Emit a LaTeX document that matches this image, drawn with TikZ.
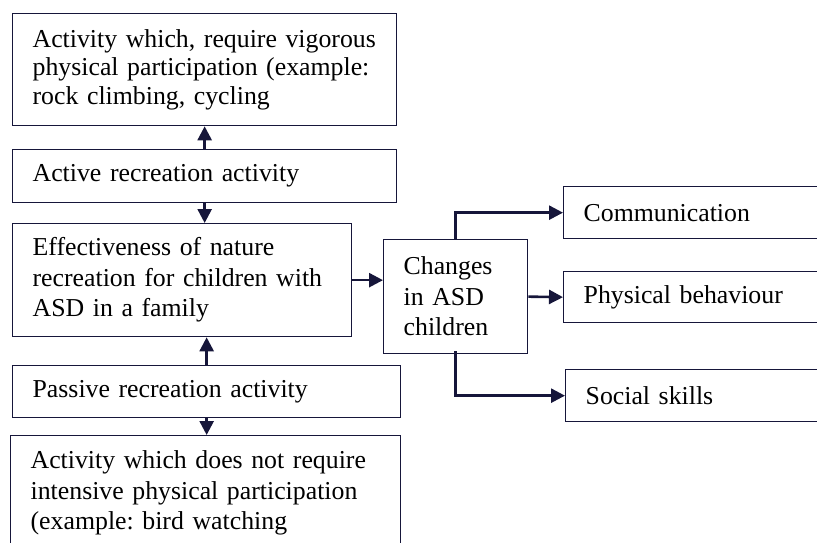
\documentclass[tikz,border=0pt]{standalone}
\usepackage{fontspec}
\setmainfont{Liberation Serif}
\usetikzlibrary{arrows.meta}
\definecolor{ink}{HTML}{16163A}
\newcommand{\tline}[1]{\mbox{#1}}
\frenchspacing
\begin{document}
\begin{tikzpicture}[x=1pt,y=-1pt,
  box/.style={draw=ink, line width=1.3pt, anchor=north west, inner xsep=20pt, inner ysep=0pt,
    align=left, font=\fontsize{25.8}{30.5}\selectfont},
  arr/.style={draw=ink, line width=2.6pt, -{Triangle[length=14pt,width=14pt]}}]
\useasboundingbox (0,0) rectangle (817,542);
\clip (0,0) rectangle (817,542);
\node[box, minimum width=384pt, minimum height=112pt, text width=344pt,
  font=\fontsize{25.8}{28.5}\selectfont] (top) at (12,13)
  {\tline{Activity which, require vigorous}\\\tline{physical participation (example:}\\\tline{rock climbing, cycling}\par\vspace{6pt}};
\node[box, minimum width=384pt, minimum height=53pt, text width=344pt] (act) at (12,149)
  {\tline{Active recreation activity}};
\node[box, minimum width=339pt, minimum height=113pt, text width=299pt] (eff) at (12,223)
  {\tline{Effectiveness of nature}\\\tline{recreation for children with}\\\tline{ASD in a family}};
\node[box, minimum width=388pt, minimum height=52pt, text width=348pt] (pas) at (12,365)
  {\tline{Passive recreation activity}};
\node[box, minimum width=390pt, minimum height=115pt, text width=350pt] (bot) at (10,435)
  {\tline{Activity which does not require}\\\tline{intensive physical participation}\\\tline{(example: bird watching}};
\node[box, minimum width=144pt, minimum height=114pt, text width=104pt] (chg) at (383,239)
  {\tline{Changes}\\\tline{in ASD}\\\tline{children}};
\node[box, minimum width=300pt, minimum height=52pt, text width=260pt] (com) at (563,186)
  {\tline{Communication}};
\node[box, minimum width=300pt, minimum height=51pt, text width=260pt] (phy) at (563,271)
  {\tline{Physical behaviour}};
\node[box, minimum width=300pt, minimum height=52pt, text width=260pt] (soc) at (565,369)
  {\tline{Social skills}};
% vertical arrows
\draw[arr] (act.north) -- (act.north |- top.south);
\draw[arr] (act.south) -- (act.south |- eff.north);
\draw[arr] (pas.north) -- (pas.north |- eff.south);
\draw[arr] (pas.south) -- (pas.south |- bot.north);
% to changes
\draw[arr] (eff.east) -- (eff.east -| chg.west);
\draw[arr] (chg.north) |- (com.west);
\draw[arr] (chg.east) -- (phy.west);
\draw[arr] ([yshift=3pt]chg.south) |- (soc.west);
\end{tikzpicture}
\end{document}
